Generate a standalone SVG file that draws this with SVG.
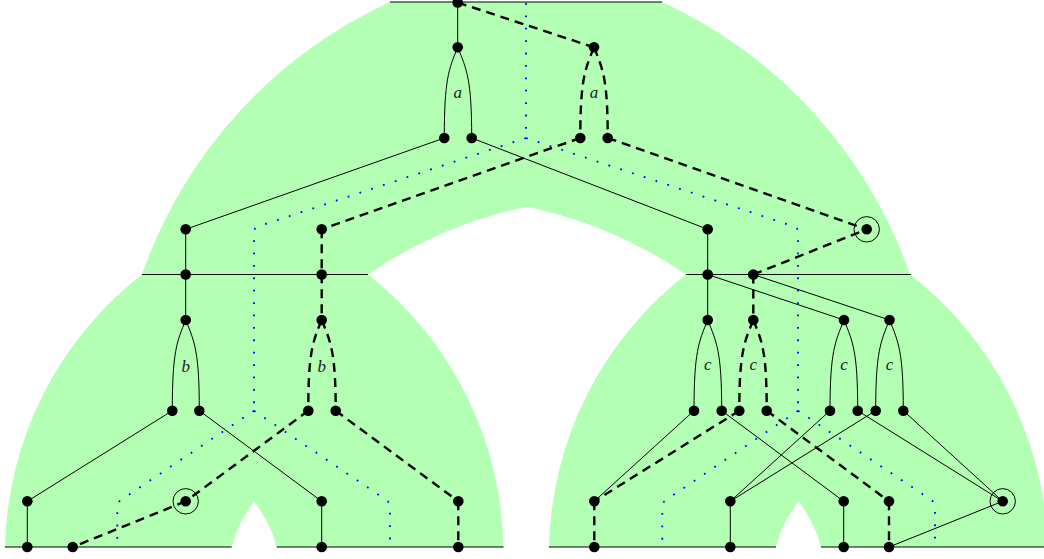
<svg xmlns="http://www.w3.org/2000/svg" width="1044" height="559" viewBox="0 0 1044 559">
<style>
.region{fill:#b3ffb3;stroke:none}
.base{stroke:#000;stroke-width:1;fill:none}
.solid{stroke:#000;stroke-width:1;fill:none}
.dash{stroke:#000;stroke-width:2.4;stroke-dasharray:9 6;fill:none}
.dot{stroke:#0000ff;stroke-width:1.8;stroke-dasharray:1.8 10.6;fill:none}
.n{fill:#000}
.ring{fill:none;stroke:#000;stroke-width:1}
.lbl{font-family:"Liberation Serif",serif;font-style:italic;font-size:17px;fill:#222;text-anchor:middle}
</style>
<rect width="1044" height="559" fill="#fff"/>
<g id="regions">
<path class="region" d="M142,274.5 A470,470 0 0 1 390,2 L662,2 A470,470 0 0 1 910,274.5 L686,274.5 A444,444 0 0 0 527,206.7 A444,444 0 0 0 368,274.5 Z"/>
<path class="region" d="M5,547 A355,355 0 0 1 142,274.5 L368,274.5 A355,355 0 0 1 503.5,547 L276.7,547 A120,120 0 0 0 254,501.7 A120,120 0 0 0 231.7,547 Z"/>
<path class="region" d="M549,547 A355,355 0 0 1 686,274.5 L910,274.5 A355,355 0 0 1 1047.5,547 L821,547 A120,120 0 0 0 798.5,501.7 A120,120 0 0 0 776,547 Z"/>
</g>
<g id="boundaries">
<line class="base" x1="390" y1="2" x2="662" y2="2"/>
<line class="base" x1="142" y1="274.5" x2="368" y2="274.5"/>
<line class="base" x1="686" y1="274.5" x2="911" y2="274.5"/>
<line class="base" x1="5" y1="547" x2="231.7" y2="547"/>
<line class="base" x1="276.7" y1="547" x2="503.5" y2="547"/>
<line class="base" x1="549" y1="547" x2="776" y2="547"/>
<line class="base" x1="821" y1="547" x2="1044" y2="547"/>
</g>
<g id="dotted-paths">
<path class="dot" d="M526,3 L526,138"/>
<path class="dot" d="M526,138 L258,226.5 Q254,228 254,232 L254,410.7"/>
<path class="dot" d="M526,138 L794,226.5 Q798,228 798,232 L798,410.7"/>
<path class="dot" d="M254,410.7 L121,500 Q117.3,502.5 117.3,507 L117.3,547"/>
<path class="dot" d="M254,410.7 L386.3,500 Q390,502.5 390,507 L390,547"/>
<path class="dot" d="M798,410.7 L666,500 Q662.3,502.5 662.3,507 L662.3,547"/>
<path class="dot" d="M798,410.7 L931.3,500 Q935,502.5 935,507 L935,547"/>
</g>
<g id="connectors">
<line class="solid" x1="457.7" y1="2.5" x2="457.7" y2="47.3"/>
<path class="solid" d="M457.7,47.3 C448.7,69.3 444.3,79.3 444.3,138"/>
<path class="solid" d="M457.7,47.3 C466.7,69.3 471.7,79.3 471.7,138"/>
<line class="solid" x1="444.3" y1="138" x2="185.7" y2="229.3"/>
<line class="solid" x1="471.7" y1="138" x2="707.7" y2="229.3"/>
<line class="solid" x1="185.7" y1="229.3" x2="185.7" y2="320"/>
<path class="solid" d="M185.7,320 C176.7,342 172.3,352 172.3,410.7"/>
<path class="solid" d="M185.7,320 C194.7,342 199.3,352 199.3,410.7"/>
<line class="solid" x1="172.3" y1="410.7" x2="27.3" y2="501.3"/>
<line class="solid" x1="27.3" y1="501.3" x2="27.3" y2="547"/>
<line class="solid" x1="199.3" y1="410.7" x2="321.7" y2="501.3"/>
<line class="solid" x1="321.7" y1="501.3" x2="321.7" y2="547"/>
<line class="solid" x1="707.7" y1="229.3" x2="707.7" y2="320"/>
<line class="solid" x1="707.7" y1="274.5" x2="844" y2="320"/>
<line class="solid" x1="753.3" y1="274.5" x2="889.5" y2="320"/>
<path class="solid" d="M707.7,320 C698.7,342 694,352 694,410.7"/>
<path class="solid" d="M707.7,320 C716.7,342 721.7,352 721.7,410.7"/>
<path class="solid" d="M844,320 C835,342 830,352 830,410.7"/>
<path class="solid" d="M844,320 C853,342 857.7,352 857.7,410.7"/>
<path class="solid" d="M889.5,320 C880.5,342 875.7,352 875.7,410.7"/>
<path class="solid" d="M889.5,320 C898.5,342 903.3,352 903.3,410.7"/>
<line class="solid" x1="694" y1="410.7" x2="594.3" y2="501.3"/>
<line class="solid" x1="721.7" y1="410.7" x2="843.7" y2="501.3"/>
<line class="solid" x1="830" y1="410.7" x2="730.3" y2="501.3"/>
<line class="solid" x1="875.7" y1="410.7" x2="730.3" y2="501.3"/>
<line class="solid" x1="857.7" y1="410.7" x2="1002.7" y2="501.3"/>
<line class="solid" x1="903.3" y1="410.7" x2="1002.7" y2="501.3"/>
<line class="solid" x1="730.3" y1="501.3" x2="730.3" y2="547"/>
<line class="solid" x1="843.7" y1="501.3" x2="843.7" y2="547"/>
<line class="solid" x1="1002.7" y1="501.3" x2="889" y2="547"/>
<line class="dash" x1="457.7" y1="2.5" x2="594" y2="47.3"/>
<path class="dash" d="M594,47.3 C585,69.3 580.3,79.3 580.3,138"/>
<path class="dash" d="M594,47.3 C603,69.3 607.7,79.3 607.7,138"/>
<line class="dash" x1="580.3" y1="138" x2="321.7" y2="229.3"/>
<line class="dash" x1="607.7" y1="138" x2="866.7" y2="229.3"/>
<line class="dash" x1="321.7" y1="229.3" x2="321.7" y2="320"/>
<path class="dash" d="M321.7,320 C312.7,342 308.3,352 308.3,410.7"/>
<path class="dash" d="M321.7,320 C330.7,342 335.7,352 335.7,410.7"/>
<line class="dash" x1="308.3" y1="410.7" x2="185.7" y2="501.3"/>
<line class="dash" x1="185.7" y1="501.3" x2="72.7" y2="547"/>
<line class="dash" x1="335.7" y1="410.7" x2="458.3" y2="501.3"/>
<line class="dash" x1="458.3" y1="501.3" x2="458.3" y2="547"/>
<line class="dash" x1="753.3" y1="274.5" x2="866.7" y2="229.3"/>
<line class="dash" x1="753.3" y1="274.5" x2="753.3" y2="320"/>
<path class="dash" d="M753.3,320 C744.3,342 739.3,352 739.3,410.7"/>
<path class="dash" d="M753.3,320 C762.3,342 766.7,352 766.7,410.7"/>
<line class="dash" x1="739.3" y1="410.7" x2="594.3" y2="501.3"/>
<line class="dash" x1="594.3" y1="501.3" x2="594.3" y2="547"/>
<line class="dash" x1="766.7" y1="410.7" x2="889" y2="501.3"/>
<line class="dash" x1="889" y1="501.3" x2="889" y2="547"/>
</g>
<g id="labels">
<text class="lbl" x="457.7" y="97.5">a</text>
<text class="lbl" x="594" y="97.5">a</text>
<text class="lbl" x="185.7" y="372">b</text>
<text class="lbl" x="321.7" y="372">b</text>
<text class="lbl" x="707.7" y="369.5">c</text>
<text class="lbl" x="753.3" y="369.5">c</text>
<text class="lbl" x="844" y="369.5">c</text>
<text class="lbl" x="889.5" y="369.5">c</text>
</g>
<g id="nodes">
<g id="n-root"><circle class="n" cx="457.7" cy="2.5" r="5.3"/></g>
<g id="n-a1"><circle class="n" cx="457.7" cy="47.3" r="5.3"/></g>
<g id="n-a2"><circle class="n" cx="594" cy="47.3" r="5.3"/></g>
<g id="n-a1l"><circle class="n" cx="444.3" cy="138" r="5.3"/></g>
<g id="n-a1r"><circle class="n" cx="471.7" cy="138" r="5.3"/></g>
<g id="n-a2l"><circle class="n" cx="580.3" cy="138" r="5.3"/></g>
<g id="n-a2r"><circle class="n" cx="607.7" cy="138" r="5.3"/></g>
<g id="n-m1"><circle class="n" cx="185.7" cy="229.3" r="5.3"/></g>
<g id="n-m2"><circle class="n" cx="321.7" cy="229.3" r="5.3"/></g>
<g id="n-m3"><circle class="n" cx="707.7" cy="229.3" r="5.3"/></g>
<g id="n-m4"><circle class="ring" cx="866.7" cy="229.3" r="12.7"/><circle class="n" cx="866.7" cy="229.3" r="5.3"/></g>
<g id="n-h1"><circle class="n" cx="185.7" cy="274.5" r="5.3"/></g>
<g id="n-h2"><circle class="n" cx="321.7" cy="274.5" r="5.3"/></g>
<g id="n-h3"><circle class="n" cx="707.7" cy="274.5" r="5.3"/></g>
<g id="n-h4"><circle class="n" cx="753.3" cy="274.5" r="5.3"/></g>
<g id="n-b1"><circle class="n" cx="185.7" cy="320" r="5.3"/></g>
<g id="n-b2"><circle class="n" cx="321.7" cy="320" r="5.3"/></g>
<g id="n-c1"><circle class="n" cx="707.7" cy="320" r="5.3"/></g>
<g id="n-c2"><circle class="n" cx="753.3" cy="320" r="5.3"/></g>
<g id="n-c3"><circle class="n" cx="844" cy="320" r="5.3"/></g>
<g id="n-c4"><circle class="n" cx="889.5" cy="320" r="5.3"/></g>
<g id="n-b1l"><circle class="n" cx="172.3" cy="410.7" r="5.3"/></g>
<g id="n-b1r"><circle class="n" cx="199.3" cy="410.7" r="5.3"/></g>
<g id="n-b2l"><circle class="n" cx="308.3" cy="410.7" r="5.3"/></g>
<g id="n-b2r"><circle class="n" cx="335.7" cy="410.7" r="5.3"/></g>
<g id="n-c1l"><circle class="n" cx="694" cy="410.7" r="5.3"/></g>
<g id="n-c1r"><circle class="n" cx="721.7" cy="410.7" r="5.3"/></g>
<g id="n-c2l"><circle class="n" cx="739.3" cy="410.7" r="5.3"/></g>
<g id="n-c2r"><circle class="n" cx="766.7" cy="410.7" r="5.3"/></g>
<g id="n-c3l"><circle class="n" cx="830" cy="410.7" r="5.3"/></g>
<g id="n-c3r"><circle class="n" cx="857.7" cy="410.7" r="5.3"/></g>
<g id="n-c4l"><circle class="n" cx="875.7" cy="410.7" r="5.3"/></g>
<g id="n-c4r"><circle class="n" cx="903.3" cy="410.7" r="5.3"/></g>
<g id="n-l1"><circle class="n" cx="27.3" cy="501.3" r="5.3"/></g>
<g id="n-l2"><circle class="ring" cx="185.7" cy="501.3" r="12.7"/><circle class="n" cx="185.7" cy="501.3" r="5.3"/></g>
<g id="n-l3"><circle class="n" cx="321.7" cy="501.3" r="5.3"/></g>
<g id="n-l4"><circle class="n" cx="458.3" cy="501.3" r="5.3"/></g>
<g id="n-r1"><circle class="n" cx="594.3" cy="501.3" r="5.3"/></g>
<g id="n-r2"><circle class="n" cx="730.3" cy="501.3" r="5.3"/></g>
<g id="n-r3"><circle class="n" cx="843.7" cy="501.3" r="5.3"/></g>
<g id="n-r4"><circle class="n" cx="889" cy="501.3" r="5.3"/></g>
<g id="n-r5"><circle class="ring" cx="1002.7" cy="501.3" r="12.7"/><circle class="n" cx="1002.7" cy="501.3" r="5.3"/></g>
<g id="n-lb1"><circle class="n" cx="27.3" cy="547" r="5.3"/></g>
<g id="n-lb2"><circle class="n" cx="72.7" cy="547" r="5.3"/></g>
<g id="n-lb3"><circle class="n" cx="321.7" cy="547" r="5.3"/></g>
<g id="n-lb4"><circle class="n" cx="458.3" cy="547" r="5.3"/></g>
<g id="n-rb1"><circle class="n" cx="594.3" cy="547" r="5.3"/></g>
<g id="n-rb2"><circle class="n" cx="730.3" cy="547" r="5.3"/></g>
<g id="n-rb3"><circle class="n" cx="843.7" cy="547" r="5.3"/></g>
<g id="n-rb4"><circle class="n" cx="889" cy="547" r="5.3"/></g>
</g>
</svg>
